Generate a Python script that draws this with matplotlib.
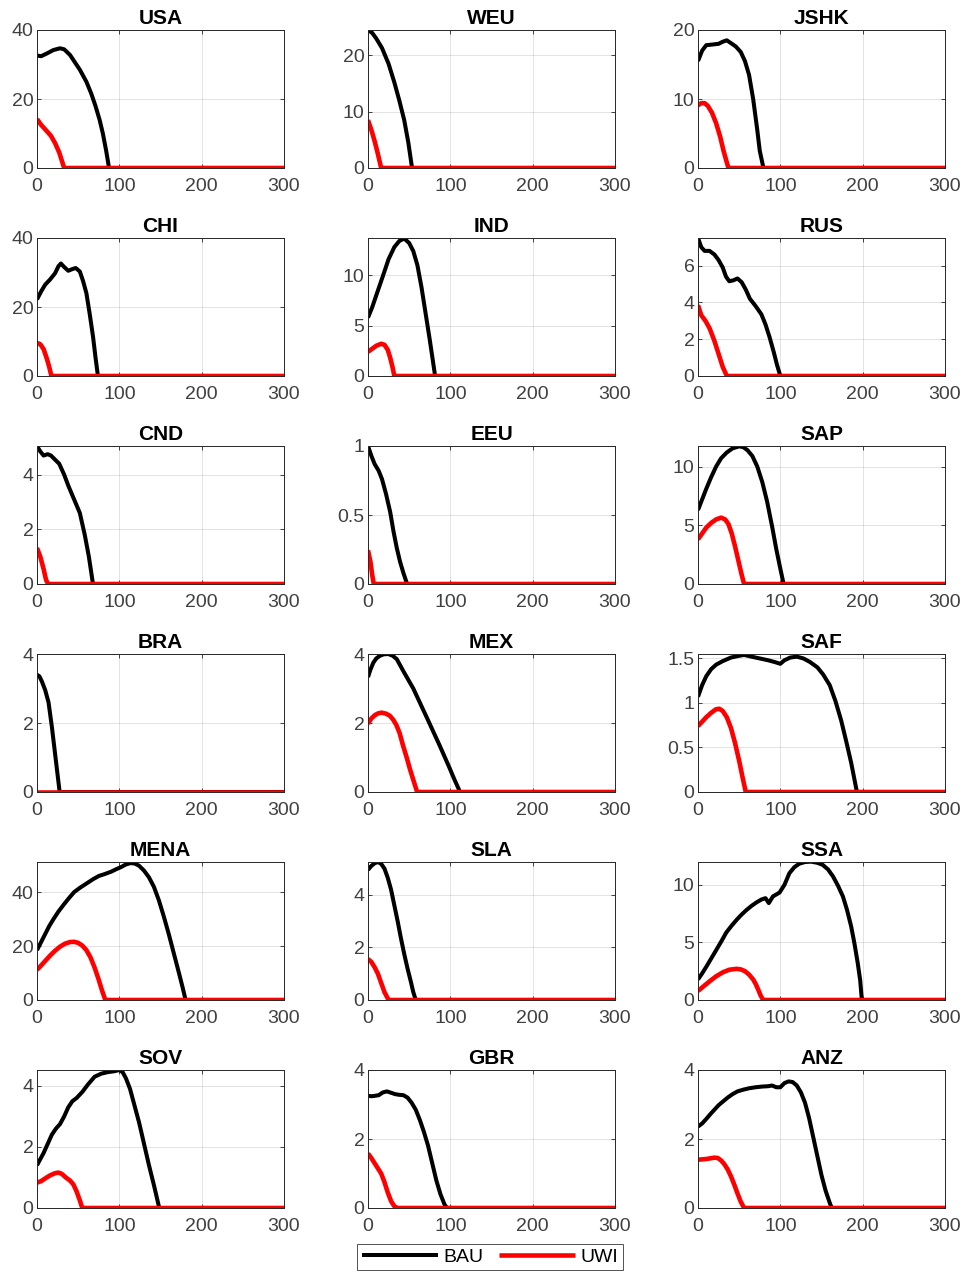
#!/usr/bin/env python3
"""
plot.py

3x6 grid of regional BAU vs UWI trajectories (MATLAB-style panels).
Saves out.png (969x1275).
"""
import matplotlib
matplotlib.use("Agg")
import matplotlib.pyplot as plt
from matplotlib.ticker import FormatStrFormatter

plt.rcParams["font.family"] = ["Liberation Sans", "DejaVu Sans"]

# Panel order (row by row)
REGIONS = ["USA", "WEU", "JSHK", "CHI", "IND", "RUS", "CND", "EEU", "SAP",
           "BRA", "MEX", "SAF", "MENA", "SLA", "SSA", "SOV", "GBR", "ANZ"]

# Upper y-limit and y ticks per panel
Y_TOP = [40, 24.5, 20, 40, 13.7, 7.5, 5.05, 1.0, 11.75,
         4, 4, 1.55, 51.2, 5.25, 11.95, 4.52, 4, 4]
Y_TICKS = [[0, 20, 40], [0, 10, 20], [0, 10, 20],
           [0, 20, 40], [0, 5, 10], [0, 2, 4, 6],
           [0, 2, 4], [0, 0.5, 1], [0, 5, 10],
           [0, 2, 4], [0, 2, 4], [0, 0.5, 1, 1.5],
           [0, 20, 40], [0, 2, 4], [0, 5, 10],
           [0, 2, 4], [0, 2, 4], [0, 2, 4]]
X_TICKS = [0, 100, 200, 300]

# (x, y) points, BAU and UWI per region
usa_bau = [(0, 32.6), (5, 32.4), (12, 33.2), (20, 34.2), (28, 34.7), (33, 34.4),
           (40, 32.8), (52, 28.5), (60, 25.0), (66, 21.5), (71, 18.0), (76, 14.0),
           (80, 10.0), (84, 5.0), (87.5, 0), (300, 0)]
usa_uwi = [(0, 14.2), (5, 12.5), (10, 11.2), (17, 9.3), (22, 7.2), (27, 4.5),
           (31, 1.5), (33, 0), (300, 0)]
weu_bau = [(0, 24.5), (5, 24.0), (10, 23.0), (17, 21.3), (25, 18.5), (32, 15.2),
           (38, 12.0), (44, 8.5), (49, 4.5), (53.5, 0), (300, 0)]
weu_uwi = [(0, 8.5), (4, 6.8), (8, 4.8), (12, 2.5), (16, 0), (300, 0)]
jshk_bau = [(0, 15.5), (5, 17.0), (10, 17.8), (18, 17.9), (25, 18.0), (30, 18.3),
            (35, 18.5), (40, 18.1), (46, 17.6), (52, 16.8), (57, 15.5), (62, 13.5),
            (67, 10.0), (72, 5.5), (75, 2.5), (79.5, 0), (300, 0)]
jshk_uwi = [(0, 9.1), (4, 9.4), (8, 9.4), (12, 9.0), (17, 8.0), (22, 6.5),
            (27, 4.5), (31, 2.5), (35, 0.8), (37, 0), (300, 0)]
chi_bau = [(0, 22.2), (5, 24.5), (10, 26.5), (16, 28.0), (22, 29.8), (26, 31.8),
           (29, 32.6), (33, 31.6), (38, 30.5), (43, 31.0), (47, 31.3), (52, 30.3),
           (56, 27.5), (60, 24.0), (64, 18.0), (68, 11.5), (71, 5.5), (74, 0), (300, 0)]
chi_uwi = [(0, 9.6), (4, 9.2), (8, 7.8), (12, 5.0), (15, 2.5), (17.5, 0), (300, 0)]
ind_bau = [(0, 5.8), (5, 6.8), (10, 8.0), (18, 9.9), (25, 11.6), (32, 12.8),
           (38, 13.4), (44, 13.65), (50, 13.2), (55, 12.4), (60, 11.0), (65, 8.8),
           (70, 6.2), (75, 3.6), (79, 1.4), (81.5, 0), (300, 0)]
ind_uwi = [(0, 2.4), (5, 2.7), (10, 3.0), (16, 3.2), (20, 3.1), (24, 2.6),
           (27, 1.8), (30, 0.8), (32, 0), (300, 0)]
rus_bau = [(0, 7.5), (4, 7.0), (8, 6.8), (14, 6.8), (20, 6.6), (25, 6.3), (30, 5.9),
           (34, 5.4), (38, 5.15), (43, 5.2), (48, 5.3), (53, 5.1), (58, 4.7),
           (63, 4.2), (70, 3.8), (77, 3.35), (82, 2.8), (87, 2.1), (92, 1.3),
           (96, 0.6), (100, 0), (300, 0)]
rus_uwi = [(0, 3.85), (4, 3.3), (9, 3.0), (14, 2.6), (20, 1.9), (25, 1.2),
           (30, 0.5), (35, 0), (300, 0)]
cnd_bau = [(0, 5.05), (4, 4.85), (8, 4.7), (13, 4.75), (17, 4.7), (22, 4.55),
           (27, 4.4), (33, 4.0), (38, 3.6), (45, 3.1), (52, 2.6), (58, 1.8),
           (63, 1.0), (68, 0), (300, 0)]
cnd_uwi = [(0, 1.32), (4, 1.0), (8, 0.55), (11, 0.15), (13.5, 0), (300, 0)]
eeu_bau = [(0, 1.0), (4, 0.93), (8, 0.87), (13, 0.82), (17, 0.76), (22, 0.65),
           (27, 0.52), (31, 0.38), (35, 0.26), (39, 0.16), (43, 0.08), (47.5, 0),
           (300, 0)]
eeu_uwi = [(0, 0.245), (3, 0.16), (5, 0.07), (7, 0), (300, 0)]
sap_bau = [(0, 6.3), (5, 7.2), (10, 8.1), (16, 9.1), (22, 10.0), (28, 10.7),
           (35, 11.2), (42, 11.55), (50, 11.72), (55, 11.65), (60, 11.4), (66, 10.9),
           (72, 10.0), (78, 8.7), (84, 7.0), (90, 4.9), (95, 3.0), (100, 1.3),
           (104, 0), (300, 0)]
sap_uwi = [(0, 3.8), (5, 4.3), (10, 4.8), (16, 5.2), (22, 5.5), (28, 5.65),
           (33, 5.5), (37, 5.1), (41, 4.3), (45, 3.2), (49, 2.0), (53, 0.8),
           (56, 0), (300, 0)]
bra_bau = [(0, 3.4), (3, 3.35), (6, 3.2), (10, 2.95), (14, 2.6), (18, 1.9),
           (22, 1.1), (25, 0.5), (27.5, 0), (300, 0)]
bra_uwi = [(0, 0), (300, 0)]
mex_bau = [(0, 3.33), (3, 3.55), (6.5, 3.75), (10, 3.87), (14.5, 3.95),
           (19, 3.99), (24.5, 4.0), (30, 3.95), (35, 3.85), (43, 3.5), (55, 3.0),
           (71, 2.18), (87, 1.35), (99, 0.7), (105, 0.36), (110.5, 0.07),
           (111, 0), (300, 0)]
mex_uwi = [(0, 1.98), (4, 2.13), (8.5, 2.23), (12.5, 2.28), (16.5, 2.3),
           (22, 2.27), (26.5, 2.21), (30.5, 2.1), (34.5, 1.94), (38.5, 1.7),
           (42.5, 1.35), (47, 1.0), (51, 0.66), (57, 0.2), (59.7, 0), (300, 0)]
saf_bau = [(0, 1.07), (5, 1.2), (10, 1.3), (16, 1.38), (22, 1.43), (30, 1.47),
           (40, 1.51), (50, 1.53), (56, 1.54), (65, 1.52), (75, 1.5), (85, 1.48),
           (93, 1.46), (100, 1.44), (105, 1.48), (112, 1.51), (120, 1.52),
           (128, 1.5), (136, 1.46), (145, 1.4), (152, 1.32), (160, 1.2),
           (167, 1.02), (174, 0.8), (180, 0.57), (186, 0.33), (193, 0), (300, 0)]
saf_uwi = [(0, 0.74), (5, 0.79), (10, 0.84), (16, 0.89), (22, 0.93), (26, 0.935),
           (30, 0.91), (35, 0.84), (40, 0.72), (45, 0.55), (50, 0.35), (54, 0.17),
           (58, 0), (300, 0)]
mena_bau = [(0, 18.5), (5, 21.5), (10, 24.5), (15, 27.5), (20, 30.0), (26, 32.8),
            (32, 35.2), (38, 37.5), (45, 40.0), (52, 41.6), (60, 43.2), (68, 44.8),
            (75, 46.0), (82, 46.7), (90, 47.6), (96, 48.5), (102, 49.3), (108, 50.3),
            (114, 50.8), (119, 50.6), (124, 49.8), (130, 48.0), (136, 45.5),
            (142, 42.0), (148, 37.0), (154, 31.0), (160, 24.5), (166, 17.5),
            (172, 10.5), (177, 4.5), (180.5, 0), (300, 0)]
mena_uwi = [(0, 11.2), (5, 12.8), (10, 14.5), (16, 16.5), (22, 18.3), (28, 19.8),
            (34, 20.9), (40, 21.5), (45, 21.6), (50, 21.2), (55, 20.2), (60, 18.5),
            (65, 15.8), (70, 12.0), (75, 7.5), (79, 3.5), (83, 0), (300, 0)]
sla_bau = [(0, 4.95), (4, 5.1), (8, 5.2), (12, 5.25), (16, 5.18), (20, 5.0),
           (24, 4.65), (28, 4.2), (32, 3.6), (36, 3.0), (40, 2.35), (44, 1.75),
           (48, 1.2), (52, 0.7), (55, 0.3), (58, 0), (300, 0)]
sla_uwi = [(0, 1.56), (4, 1.45), (8, 1.25), (12, 1.0), (16, 0.65), (20, 0.3),
           (25, 0), (300, 0)]
ssa_bau = [(0, 1.78), (5, 2.3), (10.5, 2.93), (16.5, 3.65), (22.5, 4.37),
           (28.5, 5.1), (34.5, 5.86), (41, 6.45), (47, 6.95), (53, 7.4), (59, 7.8),
           (65, 8.15), (71, 8.45), (77, 8.7), (82, 8.82), (86, 8.39), (91, 8.97),
           (99, 9.3), (105, 9.97), (111, 10.98), (117, 11.5), (123, 11.8),
           (130, 11.95), (137.5, 11.98), (145, 11.88), (151.5, 11.7), (158, 11.3),
           (164, 10.7), (170, 9.9), (176, 8.97), (181, 7.8), (186, 6.38),
           (190, 4.9), (194, 3.2), (197, 1.7), (199, 0), (300, 0)]
ssa_uwi = [(0, 0.78), (7, 1.2), (14.5, 1.64), (22, 2.05), (30.5, 2.41),
           (38, 2.62), (47, 2.7), (52, 2.65), (57, 2.5), (62, 2.2), (67, 1.78),
           (70, 1.4), (73, 0.92), (76, 0.4), (79, 0), (300, 0)]
sov_bau = [(0, 1.4), (4, 1.6), (8, 1.8), (13, 2.1), (18, 2.4), (23, 2.6),
           (28, 2.75), (33, 3.0), (38, 3.3), (43, 3.5), (48, 3.6), (55, 3.8),
           (62, 4.05), (70, 4.3), (78, 4.4), (86, 4.45), (94, 4.48), (100, 4.52),
           (104, 4.45), (108, 4.25), (113, 3.9), (118, 3.4), (124, 2.8),
           (130, 2.1), (136, 1.4), (142, 0.75), (148.5, 0), (300, 0)]
sov_uwi = [(0, 0.83), (5, 0.88), (10, 0.97), (16, 1.07), (22, 1.14), (26, 1.16),
           (30, 1.12), (35, 1.0), (40, 0.9), (44, 0.78), (48, 0.55), (52, 0.25),
           (55, 0), (300, 0)]
gbr_bau = [(0, 3.25), (4, 3.24), (8, 3.25), (13, 3.27), (18, 3.35), (23, 3.38),
           (28, 3.34), (33, 3.3), (38, 3.28), (43, 3.27), (48, 3.2), (53, 3.05),
           (58, 2.85), (63, 2.55), (68, 2.2), (73, 1.8), (78, 1.3), (83, 0.8),
           (88, 0.4), (93, 0.1), (96, 0), (300, 0)]
gbr_uwi = [(0, 1.58), (4, 1.45), (8, 1.3), (12, 1.15), (16, 1.0), (20, 0.75),
           (24, 0.45), (28, 0.2), (32, 0.05), (36, 0), (300, 0)]
anz_bau = [(0, 2.36), (5, 2.45), (10, 2.58), (15, 2.72), (20, 2.85), (25, 2.98),
           (30, 3.08), (36, 3.2), (42, 3.3), (48, 3.38), (55, 3.43), (62, 3.47),
           (70, 3.5), (78, 3.52), (85, 3.53), (90, 3.55), (95, 3.5), (100, 3.5),
           (105, 3.62), (110, 3.67), (115, 3.65), (120, 3.55), (125, 3.35),
           (130, 3.05), (135, 2.6), (140, 2.05), (145, 1.5), (150, 0.95),
           (155, 0.5), (160, 0.15), (162.5, 0), (300, 0)]
anz_uwi = [(0, 1.4), (5, 1.41), (10, 1.42), (15, 1.44), (20, 1.46), (24, 1.45),
           (28, 1.38), (32, 1.27), (36, 1.12), (40, 0.92), (44, 0.68), (48, 0.42),
           (52, 0.18), (56, 0), (300, 0)]

BAU = [usa_bau, weu_bau, jshk_bau, chi_bau, ind_bau, rus_bau, cnd_bau, eeu_bau,
       sap_bau, bra_bau, mex_bau, saf_bau, mena_bau, sla_bau, ssa_bau, sov_bau,
       gbr_bau, anz_bau]
UWI = [usa_uwi, weu_uwi, jshk_uwi, chi_uwi, ind_uwi, rus_uwi, cnd_uwi, eeu_uwi,
       sap_uwi, bra_uwi, mex_uwi, saf_uwi, mena_uwi, sla_uwi, ssa_uwi, sov_uwi,
       gbr_uwi, anz_uwi]

W, H = 969, 1275
COL_LEFT = [37, 368, 698]      # px
ROW_TOP = [30, 238, 446, 654, 862, 1070]  # px
AX_W, AX_H = 247, 138
AXIS_GRAY = "#262626"
LABEL_GRAY = "#404040"


def main():
    fig = plt.figure(figsize=(W / 100, H / 100), dpi=100)
    lines = None
    for k, name in enumerate(REGIONS):
        r, c = divmod(k, 3)
        ax = fig.add_axes([COL_LEFT[c] / W, 1 - (ROW_TOP[r] + AX_H) / H,
                           AX_W / W, AX_H / H])
        bx, by = zip(*BAU[k])
        ux, uy = zip(*UWI[k])
        l1, = ax.plot(bx, by, color="black", lw=2.9, solid_capstyle="butt",
                      solid_joinstyle="round")
        l2, = ax.plot(ux, uy, color="#ff0000", lw=3.3, solid_capstyle="butt",
                      solid_joinstyle="round")
        lines = (l1, l2)

        ax.set_xlim(0, 300)
        ax.set_ylim(0, Y_TOP[k])
        ax.set_xticks(X_TICKS)
        ax.set_yticks(Y_TICKS[k])
        ax.yaxis.set_major_formatter(FormatStrFormatter("%g"))
        ax.grid(True, color="#000000", alpha=0.13, lw=0.6)
        ax.set_axisbelow(True)
        ax.tick_params(direction="in", length=3, width=0.6, top=True, right=True,
                       labelsize=14, colors=AXIS_GRAY, labelcolor=LABEL_GRAY)
        ax.tick_params(axis="x", pad=7)
        ax.tick_params(axis="y", pad=2.5)
        for s in ax.spines.values():
            s.set_color(AXIS_GRAY)
            s.set_linewidth(0.7)
        ax.set_title(name, fontsize=15, fontweight="bold", pad=4)

    leg = fig.legend(lines, ["BAU", "UWI"], loc="center", ncol=2,
                     bbox_to_anchor=(490 / W, 1 - 1257 / H),
                     fontsize=14, handlelength=3.9, handletextpad=0.3,
                     columnspacing=0.8, frameon=True, fancybox=False,
                     borderpad=0.22, borderaxespad=0)
    leg.get_frame().set_edgecolor(AXIS_GRAY)
    leg.get_frame().set_linewidth(0.7)

    fig.savefig("out.png", dpi=100)
    plt.close(fig)


if __name__ == "__main__":
    main()
